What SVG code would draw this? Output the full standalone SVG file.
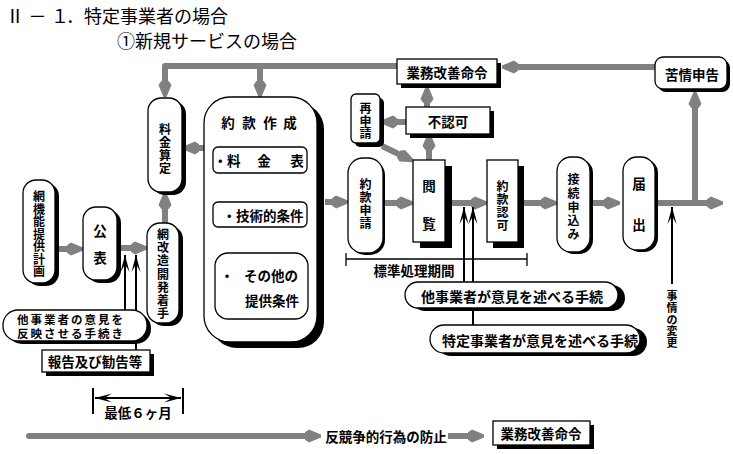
<svg xmlns="http://www.w3.org/2000/svg" width="733" height="454" viewBox="0 0 733 454">
<style>
text{font-family:"Noto Sans CJK JP","Noto Sans CJK SC",sans-serif;fill:#000}
.t{font-weight:bold;font-size:13.5px;text-anchor:middle;dominant-baseline:central}
.v{font-weight:bold;font-size:12px;text-anchor:middle;dominant-baseline:central}
.title{font-size:18px;dominant-baseline:central}
.b{fill:#fff;stroke:#000;stroke-width:1.3}
.s{fill:#000}
.g{stroke:#808080;stroke-width:6;fill:none;marker-end:url(#gh)}
.k{stroke:#000;stroke-width:2;fill:none}
.ka{stroke:#000;stroke-width:2;fill:none;marker-end:url(#bh)}
.th{stroke:#000;stroke-width:1.3;fill:none}
</style>
<defs>
<marker id="gh" markerUnits="userSpaceOnUse" markerWidth="20" markerHeight="16" viewBox="0 -8 20 16" refX="0" refY="0" orient="auto">
<path d="M-1,-3 L4,-6.5 L16,-1.5 L16,1.5 L4,6.5 L-1,3z" fill="#808080"/>
</marker>
<marker id="bh" markerUnits="userSpaceOnUse" markerWidth="20" markerHeight="12" viewBox="-18 -6 20 12" refX="0" refY="0" orient="auto-start-reverse">
<path d="M0,0 L-17,-4.5 L-11,-1 L-11,1 L-17,4.5z" fill="#000"/>
</marker>
</defs>

<g id="title">
<text class="title" x="15" y="15" text-anchor="middle">Ⅱ</text>
<text class="title" x="37.5" y="15" text-anchor="middle">－</text>
<text class="title" x="60" y="15" text-anchor="middle">１</text>
<text class="title" x="66" y="15">．特定事業者の場合</text>
<text class="title" x="117" y="40">①新規サービスの場合</text>
</g>

<g id="connectors">
<line class="g" x1="55" y1="249" x2="67" y2="249"/>
<line class="g" x1="117" y1="248" x2="131" y2="248"/>
<line class="g" x1="165" y1="223" x2="165" y2="209"/>
<line class="g" x1="204" y1="148" x2="199" y2="148"/>
<path class="g" d="M397,66 H165 V81" stroke-linejoin="round"/>
<line class="g" x1="260" y1="66" x2="260" y2="81"/>
<line class="g" x1="325" y1="202" x2="332" y2="202"/>
<line class="g" x1="385" y1="203" x2="397" y2="203"/>
<line class="g" x1="382" y1="146" x2="398.6" y2="154"/>
<line class="g" x1="429" y1="160" x2="429" y2="150"/>
<line class="g" x1="406" y1="122" x2="397" y2="122"/>
<line class="g" x1="427" y1="107" x2="427" y2="103"/>
<line class="g" x1="445" y1="203" x2="471" y2="203"/>
<line class="g" x1="524" y1="203" x2="541" y2="203"/>
<line class="g" x1="592" y1="203" x2="604" y2="203"/>
<line class="g" x1="655" y1="203" x2="707" y2="203"/>
<line class="g" x1="695" y1="203" x2="695" y2="108"/>
<line class="g" x1="655" y1="67" x2="518" y2="67"/>
<line class="g" x1="29" y1="436" x2="305" y2="436" stroke-linecap="round"/>
<line class="g" x1="448" y1="436" x2="468" y2="436"/>
<line class="ka" x1="125" y1="311" x2="125" y2="255"/>
<line class="ka" x1="136" y1="350" x2="136" y2="255"/>
<line class="ka" x1="464" y1="282" x2="464" y2="207"/>
<line class="ka" x1="473" y1="325" x2="473" y2="207"/>
<line class="ka" x1="672" y1="284" x2="672" y2="207"/>
<line class="k" x1="93" y1="388" x2="93" y2="414"/>
<line class="k" x1="183" y1="388" x2="183" y2="414"/>
<line class="ka" x1="95" y1="398" x2="181" y2="398" style="marker-start:url(#bh)"/>
<line class="th" x1="346" y1="259" x2="527" y2="259"/>
<line class="th" x1="346" y1="253" x2="346" y2="266"/>
<line class="th" x1="527" y1="253" x2="527" y2="266"/>
</g>

<g id="labels">
<text class="t" x="138" y="412">最低６ヶ月</text>
<text class="t" x="414" y="270">標準処理期間</text>
<text class="t" x="386" y="436">反競争的行為の防止</text>
<text class="v" style="font-size:11px"><tspan x="672" y="295">事</tspan><tspan x="672" y="307">情</tspan><tspan x="672" y="318.5">の</tspan><tspan x="672" y="330">変</tspan><tspan x="672" y="342">更</tspan></text>
</g>

<g id="n_keikaku">
<rect class="s" x="27" y="183" width="32" height="103" rx="13"/>
<rect class="b" x="23" y="180" width="32" height="103" rx="13"/>
<text class="v"><tspan x="39" y="195">網</tspan><tspan x="39" y="207.5">機</tspan><tspan x="39" y="220">能</tspan><tspan x="39" y="232.5">提</tspan><tspan x="39" y="245">供</tspan><tspan x="39" y="257.5">計</tspan><tspan x="39" y="270">画</tspan></text>
</g>
<g id="n_kouhyou">
<rect class="s" x="87" y="210" width="34" height="73" rx="13"/>
<rect class="b" x="83" y="207" width="34" height="73" rx="13"/>
<text class="t"><tspan x="100" y="230">公</tspan><tspan x="100" y="257">表</tspan></text>
</g>
<g id="n_kaizou">
<rect class="s" x="151" y="226" width="32" height="100" rx="13"/>
<rect class="b" x="147" y="223" width="32" height="100" rx="13"/>
<text class="v"><tspan x="163" y="233">網</tspan><tspan x="163" y="246">改</tspan><tspan x="163" y="259">造</tspan><tspan x="163" y="272.5">開</tspan><tspan x="163" y="285.5">発</tspan><tspan x="163" y="299">着</tspan><tspan x="163" y="312">手</tspan></text>
</g>
<g id="n_ryoukin">
<rect class="s" x="152" y="101" width="34" height="94" rx="13"/>
<rect class="b" x="148" y="98" width="34" height="94" rx="13"/>
<text class="v"><tspan x="165" y="128">料</tspan><tspan x="165" y="141">金</tspan><tspan x="165" y="154">算</tspan><tspan x="165" y="167">定</tspan></text>
</g>
<g id="n_sakusei">
<rect class="s" x="211" y="103" width="113" height="245" rx="26"/>
<rect class="b" x="204" y="97" width="113" height="245" rx="26"/>
<text class="t"><tspan x="228" y="122">約</tspan><tspan x="249" y="122">款</tspan><tspan x="270" y="122">作</tspan><tspan x="290" y="122">成</tspan></text>
<rect class="b" x="213" y="147" width="94" height="26" rx="5"/>
<text class="t"><tspan x="227" y="160">・料</tspan><tspan x="264" y="160">金</tspan><tspan x="297" y="160">表</tspan></text>
<rect class="b" x="213" y="202" width="94" height="25" rx="5"/>
<text class="t"><tspan x="263" y="214.5">・技術的条件</tspan></text>
<rect class="b" x="215" y="253" width="93" height="66" rx="13"/>
<text class="t"><tspan x="227" y="275">・</tspan><tspan x="271" y="275">その他の</tspan><tspan x="272" y="300">提供条件</tspan></text>
</g>
<g id="n_shinsei">
<rect class="s" x="350" y="160" width="35" height="95" rx="15"/>
<rect class="b" x="348" y="158" width="35" height="95" rx="15"/>
<text class="v"><tspan x="365.5" y="183">約</tspan><tspan x="365.5" y="196">款</tspan><tspan x="365.5" y="209">申</tspan><tspan x="365.5" y="222">請</tspan></text>
</g>
<g id="n_saishinsei">
<rect class="s" x="355" y="98" width="29" height="49" rx="5"/>
<rect class="b" x="351" y="94" width="29" height="49" rx="5"/>
<text class="v"><tspan x="365.5" y="107">再</tspan><tspan x="365.5" y="119.5">申</tspan><tspan x="365.5" y="132">請</tspan></text>
</g>
<g id="n_etsuran">
<rect class="s" x="420" y="166" width="32" height="82"/>
<rect class="b" x="413" y="160" width="32" height="82"/>
<text class="t"><tspan x="429" y="185">閲</tspan><tspan x="429" y="223">覧</tspan></text>
</g>
<g id="n_ninka">
<rect class="s" x="493" y="166" width="31" height="82"/>
<rect class="b" x="487" y="160" width="31" height="82"/>
<text class="v"><tspan x="502.5" y="185">約</tspan><tspan x="502.5" y="198">款</tspan><tspan x="502.5" y="211">認</tspan><tspan x="502.5" y="224">可</tspan></text>
</g>
<g id="n_setsuzoku">
<rect class="s" x="560" y="159" width="33" height="95" rx="14"/>
<rect class="b" x="557" y="157" width="33" height="95" rx="14"/>
<text class="v"><tspan x="573.5" y="178">接</tspan><tspan x="573.5" y="192">続</tspan><tspan x="573.5" y="205.5">申</tspan><tspan x="573.5" y="219">込</tspan><tspan x="573.5" y="233">み</tspan></text>
</g>
<g id="n_todoke">
<rect class="s" x="626" y="159" width="32" height="93" rx="14"/>
<rect class="b" x="623" y="157" width="32" height="93" rx="14"/>
<text class="t"><tspan x="639" y="183">届</tspan><tspan x="639" y="224">出</tspan></text>
</g>
<g id="n_kujou">
<rect class="s" x="658" y="60" width="72" height="32" rx="8"/>
<rect class="b" x="655" y="57" width="72" height="32" rx="8"/>
<text class="t" x="692" y="74">苦情申告</text>
</g>
<g id="n_meirei1">
<rect class="s" x="401" y="63" width="100" height="25"/>
<rect class="b" x="397" y="59" width="100" height="25"/>
<text class="t" x="447" y="72">業務改善命令</text>
</g>
<g id="n_funinka">
<rect class="s" x="410" y="111" width="84" height="27"/>
<rect class="b" x="406" y="107" width="84" height="27"/>
<text class="t" x="448" y="121">不認可</text>
</g>
<g id="n_tajigyo1">
<rect class="s" x="7" y="313" width="144" height="31" rx="15"/>
<rect class="b" x="3" y="310" width="144" height="31" rx="15"/>
<text class="t" style="font-size:11.5px;letter-spacing:2px"><tspan x="71" y="318.5">他事業者の意見を</tspan><tspan x="71" y="333">反映させる手続き</tspan></text>
</g>
<g id="n_houkoku">
<rect class="s" x="46" y="354" width="108" height="22"/>
<rect class="b" x="42" y="350" width="108" height="22"/>
<text class="t" x="95" y="361">報告及び勧告等</text>
</g>
<g id="n_tajigyo2">
<rect class="s" x="412" y="285" width="213" height="26" rx="13"/>
<rect class="b" x="405" y="282" width="213" height="26" rx="13"/>
<text class="t" x="512" y="296" style="font-size:14px">他事業者が意見を述べる手続</text>
</g>
<g id="n_tokutei">
<rect class="s" x="437" y="328" width="210" height="28" rx="14"/>
<rect class="b" x="430" y="325" width="210" height="28" rx="14"/>
<text class="t" x="540" y="339.5" style="font-size:14px">特定事業者が意見を述べる手続</text>
</g>
<g id="n_meirei2">
<rect class="s" x="497" y="425" width="97" height="24"/>
<rect class="b" x="493" y="421" width="97" height="24"/>
<text class="t" x="541" y="433">業務改善命令</text>
</g>
</svg>
